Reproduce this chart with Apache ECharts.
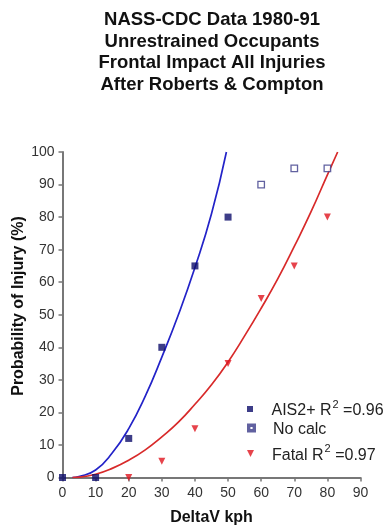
<!DOCTYPE html>
<html>
<head>
<meta charset="utf-8">
<script src="https://cdn.jsdelivr.net/npm/echarts@6/dist/echarts.min.js"></script>
<style>html,body{margin:0;padding:0;background:#fff;}#c{width:387px;height:526px;}</style>
</head>
<body>
<div id="c"></div>
<script>
// Title lines
var titleLines = ['NASS-CDC Data 1980-91', 'Unrestrained Occupants', 'Frontal Impact All Injuries', 'After Roberts & Compton'];
var xTitle = 'DeltaV kph';
var yTitle = 'Probability of Injury (%)';
// Axis ticks
var xTicks = [0, 10, 20, 30, 40, 50, 60, 70, 80, 90];
var yTicks = [0, 10, 20, 30, 40, 50, 60, 70, 80, 90, 100];
// Observed data
var aisX = [0, 10, 20, 30, 40, 50];
var aisY = [0, 0, 12, 40, 65, 80];
var noCalcX = [60, 70, 80];
var noCalcY = [90, 95, 95];
var fatalX = [20, 30, 40, 50, 60, 70, 80];
var fatalY = [0, 5, 15, 35, 55, 65, 80];
// Fitted curves
var aisFitX = [3, 5, 10, 15, 20, 25, 30, 35, 40, 45, 49.5];
var aisFitY = [0, 0.3, 2.3, 7.5, 15, 25, 37, 50, 64.5, 81, 100];
var fatalFitX = [3, 5, 10, 15, 20, 25, 30, 35, 40, 45, 50, 55, 60, 65, 70, 75, 80, 83.1];
var fatalFitY = [0, 0.1, 1.0, 2.8, 5.3, 8.5, 12.5, 17, 22.5, 28.5, 35.5, 43.5, 52, 61, 71, 81.5, 93, 100];
// Legend labels
var legendNames = ['AIS2+', 'No calc', 'Fatal'];
var legendR2 = ['0.96', null, '0.97'];

function zip(a, b) { return a.map(function (v, i) { return [v, b[i]]; }); }

var font = 'Liberation Sans, Arial, sans-serif';
var richLegend = {
  n: { fontFamily: font, fontSize: 16, color: '#222', lineHeight: 20, verticalAlign: 'bottom' },
  s: { fontFamily: font, fontSize: 11, color: '#222', lineHeight: 20, verticalAlign: 'top', padding: [0, 0, 0, 1] }
};
function legendFmt(name) {
  var i = legendNames.indexOf(name);
  if (legendR2[i]) return '{n|' + name + ' R}{s|2}{n| =' + legendR2[i] + '}';
  return '{n|' + name + '}';
}
var legendIcons = [
  'path://M0,0L10,0L10,10L0,10Z',
  'path://M0,0L10,0L10,10L0,10ZM2,2L2,8L8,8L8,2Z',
  'path://M0,0L10,0L5,10Z'
];
var legendTops = [394, 417, 438.5];
var legendIconH = [6, 7, 7];

var chart = echarts.init(document.getElementById('c'));
chart.setOption({
  animation: false,
  backgroundColor: '#fff',
  graphic: [
    { type: 'text', x: 212, y: 9, style: {
      text: titleLines.join('\n'), textAlign: 'center',
      font: 'bold 18.5px ' + font, fill: '#111', lineHeight: 21.7 } },
    { type: 'text', x: 19, y: 306, rotation: Math.PI / 2, style: {
      text: yTitle, textAlign: 'center', textVerticalAlign: 'middle',
      font: 'bold 16px ' + font, fill: '#111' } }
  ],
  grid: { left: 62.5, right: 26.5, top: 152, bottom: 48.5, containLabel: false, outerBoundsMode: 'none' },
  legend: legendNames.map(function (nm, i) {
    return {
      orient: 'vertical', left: 242, top: legendTops[i],
      itemWidth: 33, itemHeight: legendIconH[i], itemGap: 0,
      formatter: legendFmt,
      textStyle: { fontFamily: font, fontSize: 16, color: '#222', rich: richLegend },
      data: [{ name: nm, icon: legendIcons[i] }]
    };
  }),
  xAxis: {
    type: 'value', min: 0, max: 90, interval: 10,
    name: xTitle, nameLocation: 'middle', nameGap: 32,
    nameTextStyle: { fontFamily: font, fontSize: 16, fontWeight: 'bold', color: '#111' },
    axisLine: { show: true, onZero: false, lineStyle: { color: '#777', width: 2 } },
    axisTick: { show: true, length: 4, lineStyle: { color: '#777', width: 1.5 } },
    axisLabel: { fontFamily: font, fontSize: 14, color: '#333', margin: 9 },
    splitLine: { show: false }
  },
  yAxis: {
    type: 'value', min: 0, max: 100, interval: 10,
    axisLine: { show: true, onZero: false, lineStyle: { color: '#777', width: 2 } },
    axisTick: { show: true, length: 4, lineStyle: { color: '#777', width: 1.5 } },
    axisLabel: { fontFamily: font, fontSize: 14, color: '#333', margin: 8 },
    splitLine: { show: false }
  },
  series: [
    { type: 'line', data: zip(aisFitX, aisFitY), smooth: 0.5, symbol: 'none', silent: true,
      lineStyle: { color: '#2323c8', width: 1.7 }, z: 2 },
    { type: 'line', data: zip(fatalFitX, fatalFitY), smooth: 0.5, symbol: 'none', silent: true,
      lineStyle: { color: '#d82a2a', width: 1.7 }, z: 2 },
    { name: legendNames[0], type: 'scatter', data: zip(aisX, aisY), symbol: 'rect', symbolSize: 7, clip: false,
      itemStyle: { color: '#0c0c6a' }, z: 3 },
    { name: legendNames[1], type: 'scatter', data: zip(noCalcX, noCalcY), symbol: 'rect', symbolSize: 6.5, clip: false,
      itemStyle: { color: '#fff', borderColor: '#3a3a88', borderWidth: 1.3 }, z: 3 },
    { name: legendNames[2], type: 'scatter', data: zip(fatalX, fatalY), symbol: 'triangle', symbolRotate: 180, symbolSize: 7, clip: false,
      itemStyle: { color: '#e0141e' }, z: 3 }
  ]
});
</script>
</body>
</html>
